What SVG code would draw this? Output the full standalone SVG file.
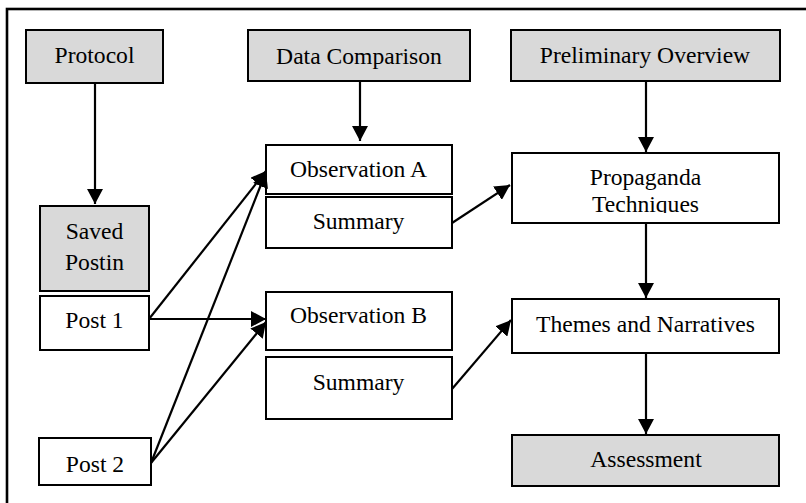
<svg xmlns="http://www.w3.org/2000/svg" width="806" height="503" viewBox="0 0 806 503">
<style>
.box{fill:#ffffff;stroke:#000;stroke-width:2}
.gray{fill:#d9d9d9;stroke:#000;stroke-width:2}
.t{font-family:"Liberation Serif","Times New Roman",serif;font-size:23.6px;fill:#000;text-anchor:middle}
.c{stroke:#000;stroke-width:2.2;fill:none}
</style>
<defs>
<marker id="ah" markerUnits="userSpaceOnUse" markerWidth="16" markerHeight="16" refX="15" refY="8" orient="auto">
<path d="M0,0 L15,8 L0,16 z" fill="#000"/>
</marker>
<clipPath id="clipProp"><rect x="512" y="153" width="267" height="60"/></clipPath>
</defs>
<rect x="0" y="0" width="806" height="503" fill="#fff"/>
<rect id="frame" x="7" y="9" width="830" height="530" fill="none" stroke="#000" stroke-width="2.6"/>

<g id="protocol"><rect class="gray" x="26" y="30" width="137" height="53"/><text class="t" x="94.5" y="63">Protocol</text></g>
<g id="data-comparison"><rect class="gray" x="248" y="30" width="222" height="51"/><text class="t" x="359" y="64">Data Comparison</text></g>
<g id="preliminary-overview"><rect class="gray" x="511" y="30" width="269" height="51"/><text class="t" x="645" y="63">Preliminary Overview</text></g>
<g id="saved-postin"><rect class="gray" x="40" y="206" width="109" height="85"/><text class="t" x="94.5" y="239">Saved</text><text class="t" x="94.5" y="270">Postin</text></g>
<g id="post1"><rect class="box" x="40" y="296" width="109" height="54"/><text class="t" x="94.5" y="328">Post 1</text></g>
<g id="post2"><rect class="box" x="39" y="438" width="112" height="47"/><text class="t" x="95" y="472">Post 2</text></g>
<g id="observation-a"><rect class="box" x="266" y="145" width="186" height="49"/><text class="t" x="358.5" y="177">Observation A</text></g>
<g id="summary-a"><rect class="box" x="266" y="197" width="186" height="51"/><text class="t" x="358.5" y="229">Summary</text></g>
<g id="observation-b"><rect class="box" x="266" y="292" width="186" height="58"/><text class="t" x="358.5" y="323">Observation B</text></g>
<g id="summary-b"><rect class="box" x="266" y="357" width="186" height="62"/><text class="t" x="358.5" y="390">Summary</text></g>
<g id="propaganda-techniques"><rect class="box" x="512" y="153" width="267" height="70"/><g clip-path="url(#clipProp)"><text class="t" x="645.5" y="185">Propaganda</text><text class="t" x="645.5" y="212">Techniques</text></g></g>
<g id="themes-narratives"><rect class="box" x="512" y="299" width="267" height="54"/><text class="t" x="645.5" y="332">Themes and Narratives</text></g>
<g id="assessment"><rect class="gray" x="512" y="435" width="267" height="51"/><text class="t" x="646" y="467">Assessment</text></g>

<g id="connectors">
<line class="c" x1="95" y1="83" x2="95" y2="204" marker-end="url(#ah)"/>
<line class="c" x1="360" y1="81" x2="360" y2="141" marker-end="url(#ah)"/>
<line class="c" x1="646" y1="81" x2="646" y2="152" marker-end="url(#ah)"/>
<line class="c" x1="646" y1="223" x2="646" y2="298" marker-end="url(#ah)"/>
<line class="c" x1="646" y1="353" x2="646" y2="434" marker-end="url(#ah)"/>
<line class="c" x1="149" y1="319" x2="266" y2="171" marker-end="url(#ah)"/>
<line class="c" x1="151" y1="463" x2="266" y2="172" marker-end="url(#ah)"/>
<line class="c" x1="149" y1="319" x2="266" y2="319" marker-end="url(#ah)"/>
<line class="c" x1="151" y1="463" x2="266" y2="322" marker-end="url(#ah)"/>
<line class="c" x1="452" y1="223" x2="510" y2="185" marker-end="url(#ah)"/>
<line class="c" x1="452" y1="389" x2="511" y2="320" marker-end="url(#ah)"/>
</g>
</svg>
